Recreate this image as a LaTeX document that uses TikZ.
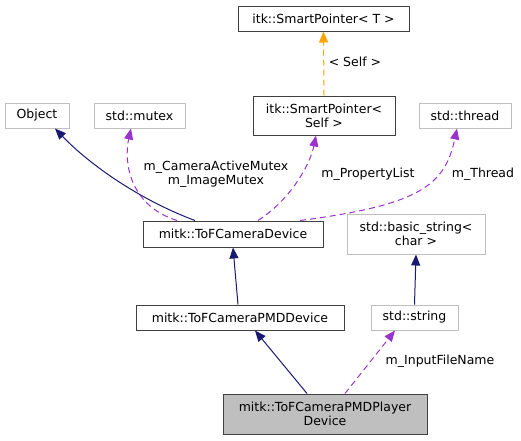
\documentclass[tikz,border=0pt]{standalone}
\usepackage{fontspec}
\setmainfont{DejaVu Sans}
\usetikzlibrary{positioning}
\usetikzlibrary{calc}
\usetikzlibrary{arrows.meta}

\definecolor{edgeblue}{HTML}{191970}
\definecolor{edgepurple}{HTML}{9A32CD}
\definecolor{edgeorange}{HTML}{FFA500}
\definecolor{boxgrey}{HTML}{BFBFBF}
\definecolor{boxdark}{HTML}{404040}

\tikzset{
	cls/.style={draw=boxdark, line width=1pt, fill=white, align=center, inner sep=1pt,
		minimum height=25pt, font=\fontsize{12.5}{14}\selectfont},
	ext/.style={cls, draw=boxgrey},
	selfcls/.style={cls, fill=boxgrey},
	inherit/.style={edgeblue, line width=1pt, -{Triangle[length=11pt,width=9pt]}},
	usage/.style={edgepurple, line width=1pt, dash pattern=on 6pt off 4pt,
		-{Triangle[length=11pt,width=9pt]}},
	tmpl/.style={edgeorange, line width=1pt, dash pattern=on 6pt off 4pt,
		-{Triangle[length=11pt,width=9pt]}},
	lbl/.style={font=\fontsize{12.5}{14}\selectfont, inner sep=0pt, align=center, text=black}
}

\begin{document}
\begin{tikzpicture}[x=1pt, y=-1pt]
		\useasboundingbox (0,0) rectangle (521,440);
		% classes
		\node[cls, minimum width=171pt] (spT) at (323.5,18.5) {itk::SmartPointer< T >};
		\node[ext, minimum width=64pt] (object) at (37,115.5) {Object};
		\node[ext, minimum width=91pt] (mutex) at (139.5,115.5) {std::mutex};
		\node[cls, minimum width=142pt, minimum height=39pt] (spSelf) at (324,115.5) {itk::SmartPointer<\\Self >};
		\node[ext, minimum width=92pt] (thread) at (465,115.5) {std::thread};
		\node[cls, minimum width=180pt, minimum height=26pt] (tofdev) at (233,234) {mitk::ToFCameraDevice};
		\node[ext, minimum width=138pt, minimum height=40pt] (basicstr) at (416,234) {std::basic\_string<\\char >};
		\node[cls, minimum width=208pt] (pmddev) at (240,317.5) {mitk::ToFCameraPMDDevice};
		\node[ext, minimum width=87pt] (string) at (414.5,317.5) {std::string};
		\node[selfcls, minimum width=204pt, minimum height=40pt] (player) at (325,414) {mitk::ToFCameraPMDPlayer\\Device};

		% edges
		\draw[tmpl] (spSelf.north) -- (spT.south)
			node[lbl, at={(355,62)}] (lself) {< Self >};
		\draw[inherit] ([xshift=-38pt]tofdev.north) .. controls (140,200) and (90,165) .. ([xshift=18pt]object.south);
		\draw[usage] ([xshift=-56pt]tofdev.north) .. controls (128,205) and (124,160) .. ([xshift=-8.5pt]mutex.south)
			node[lbl, at={(216,174)}] (lmutex) {m\_CameraActiveMutex\\m\_ImageMutex};
		\draw[usage] ([xshift=25pt]tofdev.north) .. controls (290,200) and (310,165) .. ([xshift=-8pt]spSelf.south)
			node[lbl, at={(368,174)}] (lprop) {m\_PropertyList};
		\draw[usage] ([xshift=67pt]tofdev.north) .. controls (420,205) and (445,185) .. ([xshift=-8pt]thread.south)
			node[lbl, at={(483,174)}] (lthread) {m\_Thread};
		\draw[inherit] ([xshift=-2pt]pmddev.north) -- (tofdev.south);
		\draw[inherit] (string.north) -- (basicstr.south);
		\draw[inherit] ([xshift=-18pt]player.north) -- ([xshift=15pt]pmddev.south);
		\draw[usage] ([xshift=20pt]player.north) -- ([xshift=-19.5pt]string.south)
			node[lbl, at={(440,361)}] (lfile) {m\_InputFileName};
	\end{tikzpicture}
\end{document}
